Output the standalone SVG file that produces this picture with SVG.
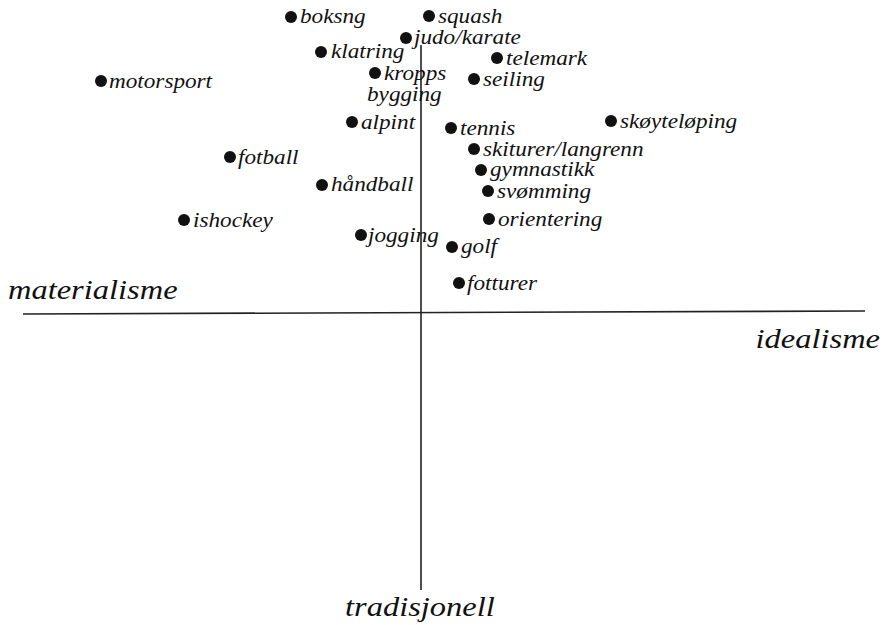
<svg xmlns="http://www.w3.org/2000/svg" width="885" height="625" viewBox="0 0 885 625">
<style>
text{font-family:'Liberation Serif','Times New Roman','DejaVu Serif',serif;font-style:italic;fill:#111}
.l{font-size:20px}
.ax{font-size:28px}
.d{fill:#111}
.axis{stroke:#222;stroke-width:1.6;fill:none}
</style>
<rect width="885" height="625" fill="#fff"/>
<g id="axes">
<line class="axis" x1="23" y1="314" x2="865" y2="311"/>
<line class="axis" x1="421" y1="45" x2="421" y2="590"/>
</g>
<g id="axis-labels" font-family="Liberation Serif, serif">
<text class="ax" transform="matrix(1.16 0 0 1 8 299)">materialisme</text>
<text class="ax" transform="matrix(1.16 0 0 1 880 348)" text-anchor="end">idealisme</text>
<text class="ax" transform="matrix(1.16 0 0 1 345 616)">tradisjonell</text>
</g>
<g id="points" font-family="Liberation Serif, serif">
<g id="boksng"><circle class="d" cx="291" cy="17" r="6"/><text class="l" transform="matrix(1.16 0 0 1 300 23)">boksng</text></g>
<g id="squash"><circle class="d" cx="429" cy="16" r="6"/><text class="l" transform="matrix(1.16 0 0 1 438 23)">squash</text></g>
<g id="judo"><circle class="d" cx="406" cy="38" r="6"/><text class="l" transform="matrix(1.16 0 0 1 414 44)">judo/karate</text></g>
<g id="klatring"><circle class="d" cx="321" cy="52" r="6"/><text class="l" transform="matrix(1.16 0 0 1 331 58)">klatring</text></g>
<g id="telemark"><circle class="d" cx="497" cy="58" r="6"/><text class="l" transform="matrix(1.16 0 0 1 506 65)">telemark</text></g>
<g id="motorsport"><circle class="d" cx="101" cy="81" r="6"/><text class="l" transform="matrix(1.16 0 0 1 109 88)">motorsport</text></g>
<g id="kroppsbygging"><circle class="d" cx="375" cy="73" r="6"/><text class="l" transform="matrix(1.16 0 0 1 384 80)">kropps</text><text class="l" transform="matrix(1.16 0 0 1 367 101)">bygging</text></g>
<g id="seiling"><circle class="d" cx="474" cy="79" r="6"/><text class="l" transform="matrix(1.16 0 0 1 483 86)">seiling</text></g>
<g id="alpint"><circle class="d" cx="352" cy="122" r="6"/><text class="l" transform="matrix(1.16 0 0 1 361 129)">alpint</text></g>
<g id="tennis"><circle class="d" cx="451" cy="128" r="6"/><text class="l" transform="matrix(1.16 0 0 1 460 135)">tennis</text></g>
<g id="skoyteloping"><circle class="d" cx="611" cy="121" r="6"/><text class="l" transform="matrix(1.16 0 0 1 620 128)">skøyteløping</text></g>
<g id="skiturer"><circle class="d" cx="474" cy="149" r="6"/><text class="l" transform="matrix(1.16 0 0 1 483 156)">skiturer/langrenn</text></g>
<g id="fotball"><circle class="d" cx="230" cy="157" r="6"/><text class="l" transform="matrix(1.16 0 0 1 238 164)">fotball</text></g>
<g id="gymnastikk"><circle class="d" cx="481" cy="170" r="6"/><text class="l" transform="matrix(1.16 0 0 1 490 176)">gymnastikk</text></g>
<g id="handball"><circle class="d" cx="322" cy="185" r="6"/><text class="l" transform="matrix(1.16 0 0 1 331 191)">håndball</text></g>
<g id="svomming"><circle class="d" cx="488" cy="191" r="6"/><text class="l" transform="matrix(1.16 0 0 1 497 198)">svømming</text></g>
<g id="orientering"><circle class="d" cx="489" cy="219" r="6"/><text class="l" transform="matrix(1.16 0 0 1 498 226)">orientering</text></g>
<g id="ishockey"><circle class="d" cx="184" cy="220" r="6"/><text class="l" transform="matrix(1.16 0 0 1 193 227)">ishockey</text></g>
<g id="jogging"><circle class="d" cx="361" cy="235" r="6"/><text class="l" transform="matrix(1.16 0 0 1 368 242)">jogging</text></g>
<g id="golf"><circle class="d" cx="452" cy="247" r="6"/><text class="l" transform="matrix(1.16 0 0 1 461 253)">golf</text></g>
<g id="fotturer"><circle class="d" cx="459" cy="283" r="6"/><text class="l" transform="matrix(1.16 0 0 1 467 290)">fotturer</text></g>
</g>
</svg>
